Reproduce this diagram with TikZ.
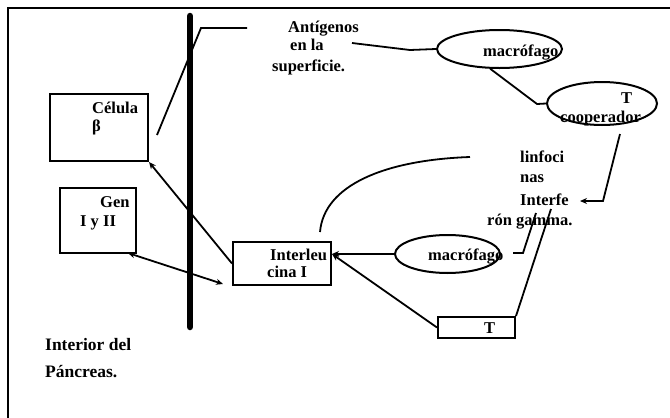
\documentclass[tikz,border=0pt]{standalone}
\usepackage{fontspec}
\setmainfont{Liberation Serif}
\usetikzlibrary{shapes.geometric,arrows.meta}
\begin{document}
\begin{tikzpicture}[x=1pt,y=-1pt,
  lbl/.style={font=\fontsize{16.5}{20}\selectfont\bfseries, inner sep=0pt, anchor=base west},
  biglbl/.style={font=\fontsize{17.5}{22}\selectfont\bfseries, inner sep=0pt, anchor=base west},
  boxn/.style={draw, line width=2pt, inner sep=0pt},
  ell/.style={draw, ellipse, line width=2pt, inner sep=0pt},
  conn/.style={line width=1.8pt},
  tip/.style={-{Stealth[length=7pt,width=6pt]}},
  dtip/.style={{Stealth[length=7pt,width=6pt]}-{Stealth[length=7pt,width=6pt]}},
]
\useasboundingbox (0,0) rectangle (670,418);
% frame
\coordinate (fr1) at (670,8); \coordinate (fr2) at (8,8); \coordinate (fr3) at (8,418);
\draw[line width=1.8pt] (fr1) -- (fr2) -- (fr3);
% membrane bar
\coordinate (bar1) at (190,16); \coordinate (bar2) at (190,327);
\draw[line width=6.5pt, line cap=round] (bar1) -- (bar2);

% boxes and ellipses
\node[boxn, minimum width=98pt, minimum height=67pt] (celula) at (99,127.5) {};
\node[boxn, minimum width=76pt, minimum height=65pt] (gen) at (98,220.5) {};
\node[boxn, minimum width=98pt, minimum height=43pt] (inter) at (282,263.5) {};
\node[boxn, minimum width=77pt, minimum height=21pt] (tbox) at (476.5,327.5) {};
\node[ell, minimum width=125pt, minimum height=38pt] (mac1) at (499.5,49) {};
\node[ell, minimum width=105pt, minimum height=38pt] (mac2) at (447.5,254) {};
\node[ell, minimum width=110pt, minimum height=43pt] (tcoop) at (602,103.5) {};

% texts
\node[lbl] (tant) at (288,32) {Antígenos};
\node[lbl] (tenla) at (290,50) {en la};
\node[lbl] (tsup) at (272,71) {superficie.};
\node[lbl] (tcel) at (92,113) {Célula};
\node[lbl] (tbeta) at (92,131) {β};
\node[lbl] (tgen) at (100,207) {Gen};
\node[lbl] (tiyii) at (80,226) {I y II};
\node[lbl] (tinl) at (270,260.5) {Interleu};
\node[lbl] (tcina) at (267,277) {cina I};
\node[lbl] (tmac1) at (483,56) {macrófago};
\node[lbl] (tT1) at (621,103) {T};
\node[lbl] (tcoo) at (560,122) {cooperador};
\node[lbl] (tlin) at (520,162) {linfoci};
\node[lbl] (tnas) at (520,182) {nas};
\node[lbl] (tifn) at (520,205) {Interfe};
\node[lbl] (tgam) at (487,225) {rón gamma.};
\node[lbl] (tmac2) at (428,260.5) {macrófago};
\node[lbl] (tT2) at (484,333) {T};
\node[biglbl] (tint) at (45,350) {Interior del};
\node[biglbl] (tpan) at (45,377) {Páncreas.};

% connectors
\coordinate (a1) at (247,28); \coordinate (a2) at (201,28); \coordinate (a3) at (157,135);
\draw[conn] (a1) -- (a2) -- (a3);
\coordinate (b1) at (352,43); \coordinate (b2) at (410,50);
\draw[conn] (b1) -- (b2) -- (mac1.west);
\coordinate (c1) at (537,104);
\draw[conn] (mac1.245) -- (c1) -- (tcoop.west);
\coordinate (d1) at (620,134); \coordinate (d2) at (603,201); \coordinate (d3) at (580,201);
\draw[conn,tip] (d1) -- (d2) -- (d3);
\coordinate (e1) at (inter.east |- mac2.west);
\draw[conn,tip] (mac2.west) -- (e1);
\draw[conn,tip] (tbox.west) -- (e1);
\coordinate (f1) at (513,253); \coordinate (f2) at (523,253); \coordinate (f3) at (536,213);
\draw[conn] (f1) -- (f2) -- (f3);
\coordinate (g1) at (551,209);
\draw[conn] (tbox.north east) -- (g1);
\coordinate (h1) at (320,232); \coordinate (h2) at (470,157);
\draw[conn] (h1) .. controls (324,185) and (385,160) .. (h2);
\draw[conn,tip] (inter.west) -- (celula.south east);
\coordinate (i1) at (128,253); \coordinate (i2) at (223,284);
\draw[conn,dtip] (i1) -- (i2);
\end{tikzpicture}
\end{document}
